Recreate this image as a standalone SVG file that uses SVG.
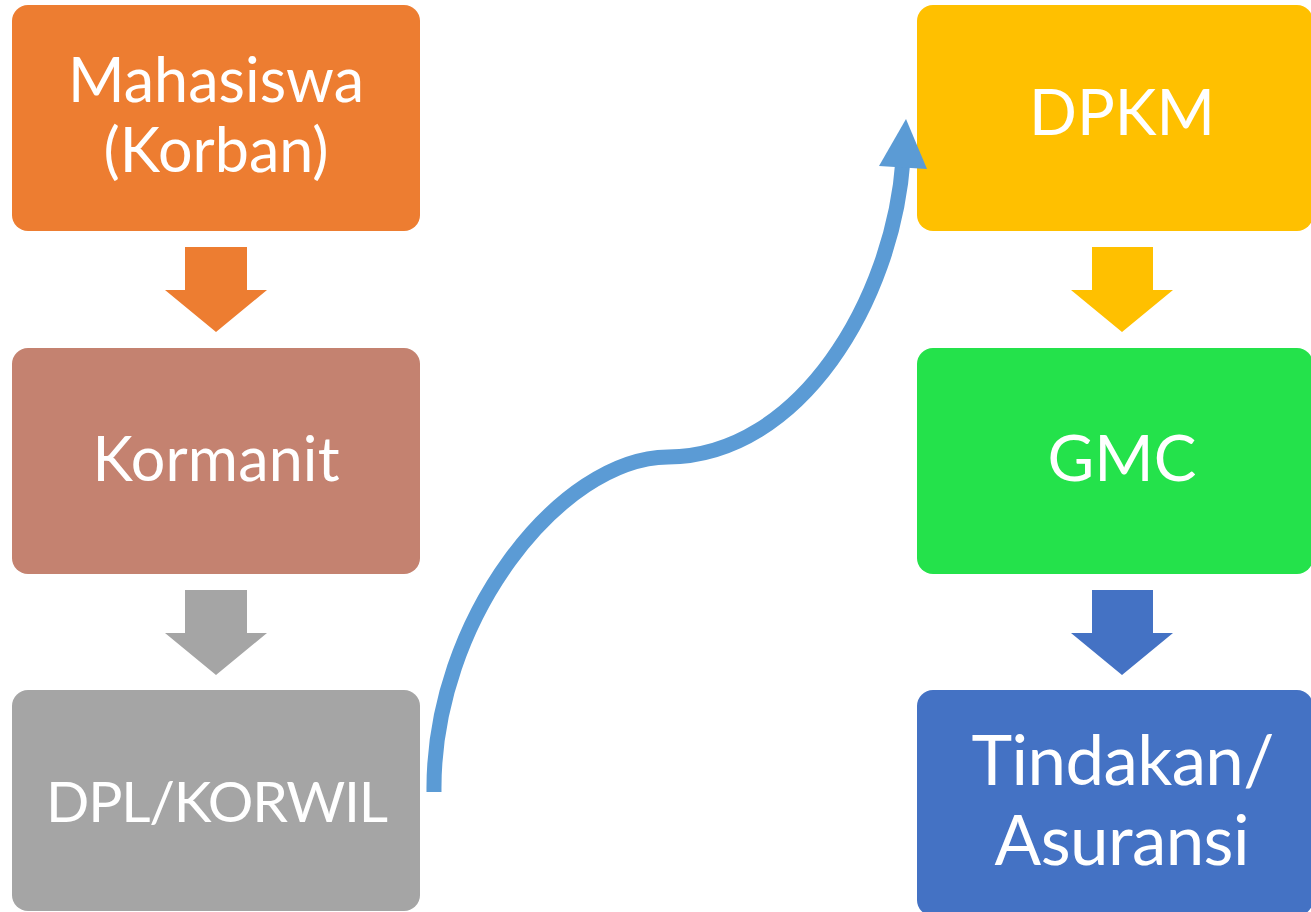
<svg xmlns="http://www.w3.org/2000/svg" width="1311" height="912" viewBox="0 0 1311 912">
<style>
.lbl{font-family:Lato,"Open Sans","Liberation Sans",sans-serif;font-size:61px;fill:#fff;text-anchor:middle}
.big{font-size:69px}
</style>
<rect width="1311" height="912" fill="#fff"/>
<g id="n-mahasiswa"><rect x="12" y="5" width="408" height="226" rx="16" fill="#ED7D31"/><text class="lbl" x="216" y="102" textLength="296">Mahasiswa</text><text class="lbl" x="216" y="172" textLength="225">(Korban)</text></g>
<g id="n-kormanit"><rect x="12" y="348" width="408" height="226" rx="16" fill="#C48270"/><text class="lbl" x="216" y="481" textLength="247">Kormanit</text></g>
<g id="n-dpl"><rect x="12" y="690" width="408" height="221" rx="16" fill="#A5A5A5"/><text class="lbl" x="217" y="822" style="font-size:57px" textLength="342">DPL/KORWIL</text></g>
<g id="n-dpkm"><rect x="917" y="5" width="396" height="226" rx="16" fill="#FFC000"/><text class="lbl" x="1122" y="135" style="font-size:63px">DPKM</text></g>
<g id="n-gmc"><rect x="917" y="348" width="396" height="226" rx="16" fill="#24E24B"/><text class="lbl" x="1122" y="481" style="font-size:64px">GMC</text></g>
<g id="n-tindakan"><rect x="917" y="690" width="396" height="226" rx="16" fill="#4472C4"/><text class="lbl big" x="1123" y="785" textLength="303">Tindakan/</text><text class="lbl big" x="1122" y="865" textLength="255">Asuransi</text></g>
<g id="connectors">
<polygon points="185,247 247,247 247,290 267,290 216,332 165,290 185,290" fill="#ED7D31"/>
<polygon points="185,590 247,590 247,633 267,633 216,675 165,633 185,633" fill="#A5A5A5"/>
<polygon points="1092,247 1153,247 1153,290 1173,290 1122,332 1071,290 1092,290" fill="#FFC000"/>
<polygon points="1092,590 1153,590 1153,633 1173,633 1122,675 1071,633 1092,633" fill="#4472C4"/>
<path d="M434,792 C432,620 560,458 668,457 C800,456 893,300 903,160" fill="none" stroke="#5B9BD5" stroke-width="15"/>
<polygon points="906,119 927,169 879,166" fill="#5B9BD5"/>
</g>
</svg>
